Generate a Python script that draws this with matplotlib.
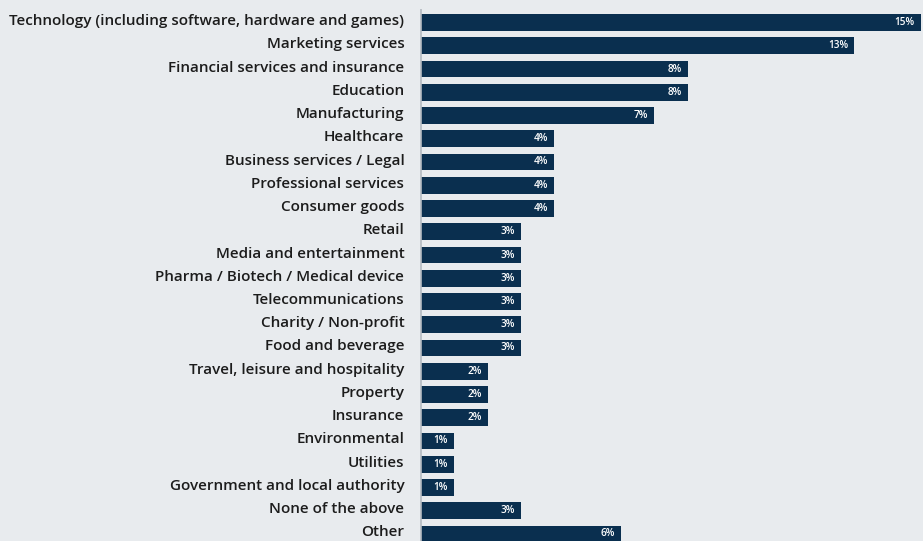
import matplotlib
matplotlib.use("Agg")
import matplotlib.pyplot as plt
from matplotlib.transforms import ScaledTranslation

categories = [
    "Technology (including software, hardware and games)",
    "Marketing services",
    "Financial services and insurance",
    "Education",
    "Manufacturing",
    "Healthcare",
    "Business services / Legal",
    "Professional services",
    "Consumer goods",
    "Retail",
    "Media and entertainment",
    "Pharma / Biotech / Medical device",
    "Telecommunications",
    "Charity / Non-profit",
    "Food and beverage",
    "Travel, leisure and hospitality",
    "Property",
    "Insurance",
    "Environmental",
    "Utilities",
    "Government and local authority",
    "None of the above",
    "Other",
]
values = [15, 13, 8, 8, 7, 4, 4, 4, 4, 3, 3, 3, 3, 3, 3, 2, 2, 2, 1, 1, 1, 3, 6]

BG = "#e8ebee"
BAR = "#0a2f4f"
FONT = ["Open Sans", "DejaVu Sans"]

W, H = 923, 541
fig = plt.figure(figsize=(W / 100, H / 100), dpi=100, facecolor=BG)
ax = fig.add_axes([421 / W, 0, 1 - 421 / W, 1])
ax.set_facecolor(BG)

n = len(categories)
ypos = list(range(n))
ax.barh(ypos, values, height=0.73, color=BAR, zorder=2)

# bar rows spaced 23.25 px apart, first row centred 22.5 px from the top
pitch = 23.25
top = -22.5 / pitch
bottom = top + H / pitch
ax.set_ylim(bottom, top)
ax.set_xlim(0, 15.06)

for s in ax.spines.values():
    s.set_visible(False)
ax.set_xticks([])
ax.set_yticks(ypos)
ax.set_yticklabels(categories, fontsize=11.0, color="#1c1c1c",
                   family=FONT, fontweight="semibold")
ax.tick_params(axis="y", length=0, pad=12)
lift = ScaledTranslation(0, 3 / 100, fig.dpi_scale_trans)
for lbl in ax.get_yticklabels():
    lbl.set_transform(lbl.get_transform() + lift)

# vertical baseline
ax.plot([0, 0], [bottom, top + 9 / pitch], color="#b4bac1", lw=1.2,
        zorder=3, clip_on=False, solid_capstyle="butt")

for y, v in zip(ypos, values):
    ax.annotate(f"{v}%", xy=(v, y), xytext=(-4.5, 0), textcoords="offset points",
                ha="right", va="center", color="white", fontsize=7.2,
                family=FONT, fontweight="semibold", zorder=4)

fig.savefig("out.png", dpi=100, facecolor=BG)
